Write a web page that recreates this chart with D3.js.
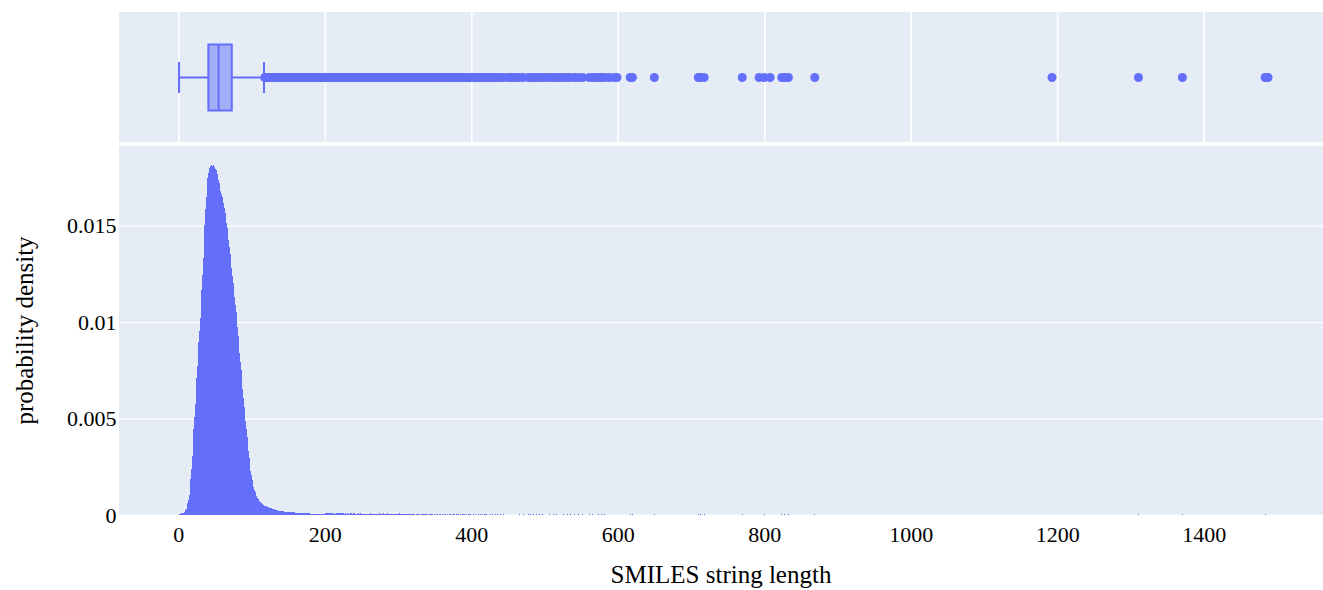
<!DOCTYPE html>
<html>
<head>
<meta charset="utf-8">
<script src="https://cdn.jsdelivr.net/npm/d3@7"></script>
<style>
  html, body { margin: 0; padding: 0; background: #fff; }
  svg { display: block; }
  text { font-family: "Liberation Serif", "Times New Roman", serif; fill: #000; }
</style>
</head>
<body>
<svg id="chart" width="1323" height="590"></svg>
<script>
// ---- data -------------------------------------------------------------
// Probability density of SMILES string length, one bin per length, lengths 1..200
const coreStart = 1;
const coreDensity = [
  0.00004, 0.00004, 0.00004, 0.00008, 0.00008, 0.00012, 0.00012, 0.00016, 0.00020, 0.00024,
  0.00033, 0.00045, 0.00060, 0.00080, 0.00105, 0.00140, 0.00185, 0.00240, 0.00305, 0.00375,
  0.00445, 0.00510, 0.00575, 0.00640, 0.00710, 0.00775, 0.00840, 0.00895, 0.00955, 0.01020,
  0.01090, 0.01165, 0.01245, 0.01330, 0.01420, 0.01505, 0.01585, 0.01650, 0.01705, 0.01745,
  0.01775, 0.01790, 0.01800, 0.01808, 0.01812, 0.01818, 0.01810, 0.01815, 0.01805, 0.01808,
  0.01795, 0.01790, 0.01770, 0.01755, 0.01735, 0.01720, 0.01700, 0.01680, 0.01665, 0.01650,
  0.01630, 0.01615, 0.01590, 0.01565, 0.01540, 0.01515, 0.01490, 0.01460, 0.01425, 0.01390,
  0.01355, 0.01315, 0.01280, 0.01240, 0.01205, 0.01165, 0.01130, 0.01090, 0.01055, 0.01015,
  0.00975, 0.00930, 0.00885, 0.00840, 0.00795, 0.00750, 0.00700, 0.00655, 0.00605, 0.00560,
  0.00520, 0.00485, 0.00445, 0.00405, 0.00365, 0.00330, 0.00295, 0.00260, 0.00230, 0.00205,
  0.00182, 0.00162, 0.00146, 0.00131, 0.00119, 0.00108, 0.00098, 0.00090, 0.00083, 0.00077,
  0.00072, 0.00067, 0.00063, 0.00060, 0.00057, 0.00054, 0.00051, 0.00049, 0.00047, 0.00045,
  0.00043, 0.00041, 0.00040, 0.00038, 0.00037, 0.00035, 0.00034, 0.00033, 0.00031, 0.00030,
  0.00029, 0.00028, 0.00027, 0.00026, 0.00025, 0.00024, 0.00023, 0.00022, 0.00022, 0.00021,
  0.00020, 0.00020, 0.00019, 0.00019, 0.00018, 0.00018, 0.00017, 0.00017, 0.00016, 0.00016,
  0.00015, 0.00015, 0.00015, 0.00014, 0.00014, 0.00014, 0.00013, 0.00013, 0.00013, 0.00012,
  0.00012, 0.00012, 0.00011, 0.00011, 0.00011, 0.00011, 0.00010, 0.00010, 0.00010, 0.00010,
  0.000095, 0.000092, 0.00009, 0.000088, 0.000086, 0.000084, 0.000082, 0.00008, 0.000079, 0.000077,
  0.000076, 0.000074, 0.000073, 0.000072, 0.00007, 0.000069, 0.000068, 0.000067, 0.000066, 0.000065,
  0.000064, 0.000063, 0.000062, 0.000061, 0.00006, 0.000059, 0.000058, 0.000057, 0.000056, 0.000055
];

// Long tail, lengths 201..430, as molecule counts per length
const tailStart = 201;
const tailCounts = [
  3,2,2,3,2,2,1,3,2,2, 2,1,3,2,1,2,2,1,2,3, 2,1,2,2,1,2,1,2,2,1, 2,1,2,1,2,2,1,1,2,1,
  2,1,1,2,1,2,1,1,2,1, 1,2,1,1,2,1,1,1,2,1, 1,2,1,1,1,2,1,1,1,2, 1,1,1,1,2,1,1,1,1,2,
  1,1,1,1,1,2,1,1,1,1, 1,1,2,1,1,1,1,1,1,1, 1,2,1,1,1,1,1,1,1,1, 1,1,1,1,0,1,1,1,1,1,
  1,1,1,0,1,1,1,1,1,1, 0,1,1,1,1,1,0,1,1,1, 1,0,1,1,1,1,1,0,1,1, 0,1,1,1,0,1,1,1,0,1,
  1,0,1,1,1,0,1,1,0,1, 1,1,0,1,0,1,1,0,1,1, 1,0,1,0,1,1,0,1,1,0, 1,0,1,1,0,1,0,1,1,0,
  1,0,1,0,1,1,0,1,0,1, 0,1,1,0,1,0,0,1,1,0, 1,0,1,0,0,1,1,0,1,0
];
const densityPerCount = 0.00004;

// Rare lengths beyond 430 (one molecule each)
const rareLengths = [
  433, 436, 440, 444, 450, 453, 457, 461, 466, 471, 478, 481, 485, 489, 493, 497,
  502, 507, 512, 516, 521, 526, 531, 535, 541, 546, 552, 561, 566, 569, 574, 578,
  582, 588, 595, 599, 617, 620, 650, 710, 713, 718, 770, 793, 800, 808, 824, 828,
  833, 869, 1193, 1311, 1371, 1484, 1488
];

// Box summary: lower whisker, Q1, median, Q3, upper whisker
const boxStats = [1, 41, 55, 73, 117];

const xTicks = [0, 200, 400, 600, 800, 1000, 1200, 1400];
const yTicks = [0, 0.005, 0.01, 0.015];
const yTickLabels = ["0", "0.005", "0.01", "0.015"];
const xTitle = "SMILES string length";
const yTitle = "probability density";

// ---- assemble bins ----------------------------------------------------
const bins = [];
coreDensity.forEach((d, i) => bins.push({ len: coreStart + i, density: d }));
tailCounts.forEach((c, i) => { if (c > 0) bins.push({ len: tailStart + i, density: c * densityPerCount }); });
rareLengths.forEach(l => bins.push({ len: l, density: densityPerCount }));

const outliers = bins.filter(b => b.len > boxStats[4]).map(b => b.len);

// ---- layout -----------------------------------------------------------
const W = 1323, H = 590;
const plotLeft = 119, plotRight = 1323;
const boxTop = 12, boxBottom = 142;
const histTop = 146, histBottom = 515;
const accent = "#636efa";
const plotBg = "#e5ecf6";

const svg = d3.select("#chart");
svg.append("rect").attr("width", W).attr("height", H).attr("fill", "#fff");

const x = d3.scaleLinear().domain([-81, 1563]).range([plotLeft, plotRight]);
const y = d3.scaleLinear().domain([0, 0.01913]).range([histBottom, histTop]);

// ---- histogram panel --------------------------------------------------
svg.append("rect")
  .attr("x", plotLeft).attr("y", histTop)
  .attr("width", plotRight - plotLeft).attr("height", histBottom - histTop)
  .attr("fill", plotBg);

const yGrid = svg.append("g")
  .attr("transform", `translate(${plotLeft},0)`)
  .call(d3.axisLeft(y).tickValues(yTicks).tickSize(-(plotRight - plotLeft)).tickFormat(""));
yGrid.select(".domain").remove();
yGrid.selectAll("line").attr("stroke", "#fff").attr("stroke-width", 1.3);

svg.append("g")
  .attr("shape-rendering", "crispEdges")
  .selectAll("rect")
  .data(bins)
  .join("rect")
  .attr("x", d => x(d.len - 0.5))
  .attr("width", d => x(d.len + 0.5) - x(d.len - 0.5))
  .attr("y", d => y(d.density))
  .attr("height", d => y(0) - y(d.density))
  .attr("fill", accent);

// ---- box panel --------------------------------------------------------
svg.append("rect")
  .attr("x", plotLeft).attr("y", boxTop)
  .attr("width", plotRight - plotLeft).attr("height", boxBottom - boxTop)
  .attr("fill", plotBg);

const xGrid = svg.append("g")
  .attr("transform", `translate(0,${boxBottom})`)
  .call(d3.axisBottom(x).tickValues(xTicks).tickSize(-(boxBottom - boxTop)).tickFormat(""));
xGrid.select(".domain").remove();
xGrid.selectAll("line").attr("stroke", "#fff").attr("stroke-width", 1.6);

const cy = (boxTop + boxBottom) / 2 + 0.5;
const boxHalf = 33, capHalf = 15.5;
const [lo, q1, med, q3, hi] = boxStats;
const boxG = svg.append("g");

boxG.append("line")
  .attr("x1", x(lo)).attr("x2", x(q1)).attr("y1", cy).attr("y2", cy)
  .attr("stroke", accent).attr("stroke-width", 2);
boxG.append("line")
  .attr("x1", x(q3)).attr("x2", x(hi)).attr("y1", cy).attr("y2", cy)
  .attr("stroke", accent).attr("stroke-width", 2);
[lo, hi].forEach(v => boxG.append("line")
  .attr("x1", x(v)).attr("x2", x(v)).attr("y1", cy - capHalf).attr("y2", cy + capHalf)
  .attr("stroke", accent).attr("stroke-width", 2));
boxG.append("rect")
  .attr("x", x(q1)).attr("y", cy - boxHalf)
  .attr("width", x(q3) - x(q1)).attr("height", 2 * boxHalf)
  .attr("fill", "rgba(99,110,250,0.5)")
  .attr("stroke", accent).attr("stroke-width", 2);
boxG.append("line")
  .attr("x1", x(med)).attr("x2", x(med)).attr("y1", cy - boxHalf).attr("y2", cy + boxHalf)
  .attr("stroke", accent).attr("stroke-width", 2);

svg.append("g").selectAll("circle")
  .data(outliers)
  .join("circle")
  .attr("cx", d => x(d)).attr("cy", cy)
  .attr("r", 4.5)
  .attr("fill", accent);

// ---- axes labels ------------------------------------------------------
const xAxis = svg.append("g")
  .attr("transform", `translate(0,${histBottom})`)
  .call(d3.axisBottom(x).tickValues(xTicks).tickSize(0).tickPadding(11).tickFormat(d3.format("d")));
xAxis.select(".domain").remove();
xAxis.selectAll("text").style("font-size", "22px").attr("fill", "#000")
  .style("font-family", '"Liberation Serif", "Times New Roman", serif');

const yAxis = svg.append("g")
  .attr("transform", `translate(${plotLeft},0)`)
  .call(d3.axisLeft(y).tickValues(yTicks).tickSize(0).tickPadding(2.5)
    .tickFormat((d, i) => yTickLabels[i]));
yAxis.select(".domain").remove();
yAxis.selectAll("text").style("font-size", "22px").attr("fill", "#000")
  .style("font-family", '"Liberation Serif", "Times New Roman", serif');

svg.append("text")
  .attr("x", (plotLeft + plotRight) / 2).attr("y", 583)
  .attr("text-anchor", "middle")
  .style("font-size", "25px")
  .text(xTitle);

svg.append("text")
  .attr("transform", `translate(33,${(histTop + histBottom) / 2}) rotate(-90)`)
  .attr("text-anchor", "middle")
  .style("font-size", "25px")
  .text(yTitle);
</script>
</body>
</html>
